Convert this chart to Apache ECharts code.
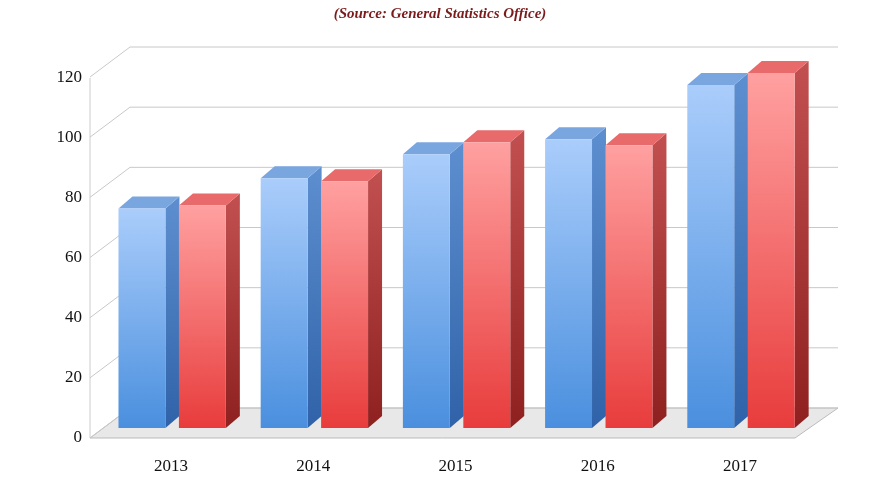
<!DOCTYPE html>
<html><head><meta charset="utf-8">
<script src="https://cdn.jsdelivr.net/npm/echarts@6/dist/echarts.min.js"></script>
<style>html,body{margin:0;padding:0;background:#fff}#c{width:880px;height:495px}</style>
</head><body><div id="c"></div>
<script>
const categories = ['2013','2014','2015','2016','2017'];
const seriesA = [73, 83, 91, 96, 114];
const seriesB = [74, 82, 95, 94, 118];
const yTicks = [0, 20, 40, 60, 80, 100, 120];
const font = 'Liberation Serif, DejaVu Serif, serif';
const DX = 14, DY = -12;

function box(api, vals, offset, front, side, top) {
  const i = api.value(0), v = api.value(1);
  const band = api.size([1, 0])[0];
  const base = api.coord([i, 0]), tp = api.coord([i, v]);
  const w = band * 0.33;
  const x0 = base[0] + offset * band, x1 = x0 + w;
  const yb = base[1], yt = tp[1];
  return {type: 'group', children: [
    {type: 'polygon', shape: {points: [[x1, yb], [x1 + DX, yb + DY], [x1 + DX, yt + DY], [x1, yt]]},
     style: {fill: side}},
    {type: 'polygon', shape: {points: [[x0, yt], [x1, yt], [x1 + DX, yt + DY], [x0 + DX, yt + DY]]},
     style: {fill: top}},
    {type: 'rect', shape: {x: x0, y: yt, width: w, height: yb - yt}, style: {fill: front}}
  ]};
}
const grad = (a, b) => new echarts.graphic.LinearGradient(0, 0, 0, 1, [{offset: 0, color: a}, {offset: 1, color: b}]);

const chart = echarts.init(document.getElementById('c'));
chart.setOption({
  animation: false,
  title: {text: '(Source: General Statistics Office)', left: 'center', top: 2,
    textStyle: {color: '#7a1c1c', fontStyle: 'italic', fontWeight: 'bold', fontFamily: font, fontSize: 15}},
  graphic: [{type: 'polygon', z: 0, shape: {points: [[90, 438], [795, 438], [838, 408], [130, 408]]},
    style: {fill: '#e8e8e8', stroke: '#bbb', lineWidth: 1}},
    {type: 'line', z: 0, shape: {x1: 90, y1: 438, x2: 90, y2: 78}, style: {stroke: '#ccc'}}],
  grid: [
    {left: 90, right: 85, top: 78, bottom: 57},
    {left: 100, right: 69, top: 67, bottom: 67},
    {left: 130, right: 42, top: 47, bottom: 87}
  ],
  xAxis: [
    {gridIndex: 0, type: 'category', data: categories, show: false},
    {gridIndex: 1, type: 'category', data: categories, axisLine: {show: false}, axisTick: {show: false},
     axisLabel: {margin: 30, color: '#111', fontSize: 17, fontFamily: font}},
    {gridIndex: 2, type: 'category', data: categories, show: false}
  ],
  yAxis: [
    {gridIndex: 0, min: 0, max: 120, interval: 20, splitLine: {show: false}, axisLine: {show: false},
     axisLabel: {color: '#111', fontSize: 17, fontFamily: font, margin: 8}},
    {gridIndex: 1, min: 0, max: 120, show: false},
    {gridIndex: 2, min: 0, max: 120, show: false}
  ],
  series: [
    {type: 'custom', xAxisIndex: 2, yAxisIndex: 2, z: 1, data: yTicks.map(v => [0, v]),
     renderItem: (p, api) => {
       const y = api.coord([0, api.value(1)])[1];
       const cs = p.coordSys;
       return {type: 'polyline', shape: {points: [[cs.x - 40, y + 30], [cs.x, y], [cs.x + cs.width, y]]},
         style: {stroke: '#c8c8c8', lineWidth: 1, fill: null}};
     }},
    {type: 'custom', xAxisIndex: 1, yAxisIndex: 1, z: 3, data: seriesA.map((v, i) => [i, v]),
     renderItem: (p, api) => box(api, seriesA, -0.37, grad('#aacdfb', '#4a8fde'), grad('#5d8fd0', '#2f62a8'), '#7aa6e0')},
    {type: 'custom', xAxisIndex: 1, yAxisIndex: 1, z: 3, data: seriesB.map((v, i) => [i, v]),
     renderItem: (p, api) => box(api, seriesB, 0.055, grad('#ffa0a0', '#e83c3c'), grad('#c25050', '#8e2020'), '#e86a6a')}
  ]
});
</script></body></html>
